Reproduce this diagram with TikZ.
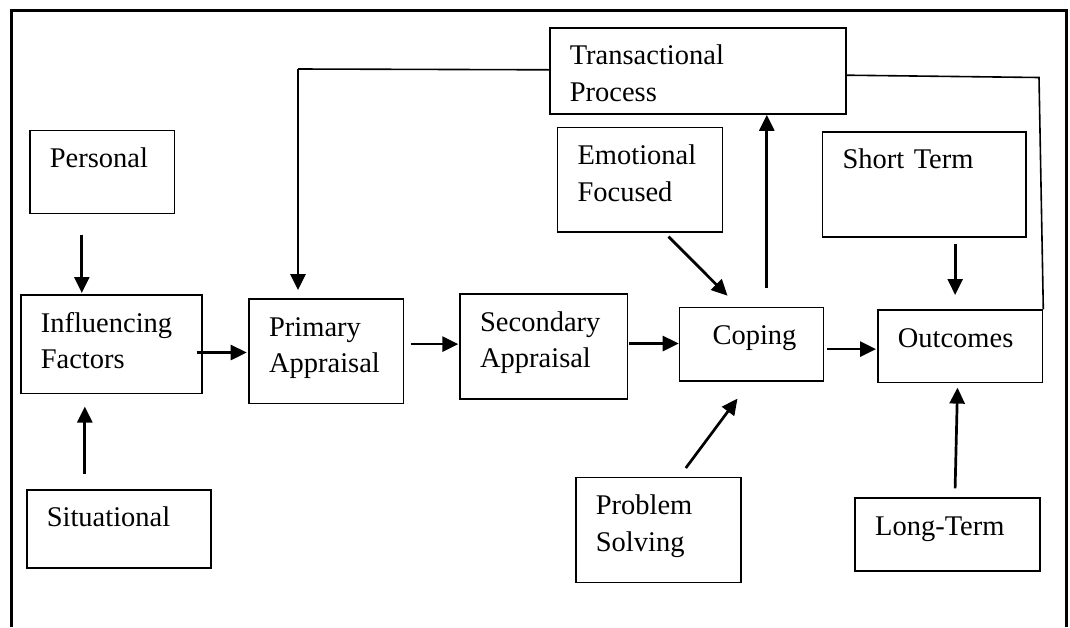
\documentclass[tikz,border=0pt]{standalone}
\usepackage{fontspec}
\setmainfont{Liberation Serif}
\usetikzlibrary{arrows.meta}

\begin{document}
\begin{tikzpicture}[x=1pt,y=-1pt,
  box/.style={draw,line width=1.6pt,anchor=north west,inner xsep=20pt,inner ysep=0pt,
    text height=37pt,align=left,font=\fontsize{28.5}{36.7}\selectfont},
  arr/.style={line width=2.7pt,-{Triangle[length=16pt,width=15pt]}},
  link/.style={line width=1.6pt}]
  \useasboundingbox (0,0) rectangle (1070,627);
  % outer frame, open at the bottom:
  \draw[line width=3pt] (11.5,627) -- (11.5,10.3) -- (1066,10.3) -- (1066,627);
  % influencing factors and their sources:
  \node[box,text width=104.5pt,text depth=46pt] (personal) at (29,129.5) {Personal};
  \node[box,text width=141pt,text depth=61.4pt] (influence) at (20,294.3) {Influencing\\Factors};
  \node[box,text width=144pt,text depth=41pt] (situational) at (26,489) {Situational};
  % appraisal chain:
  \node[box,text width=114.4pt,text depth=67.4pt] (primary) at (248.3,298.3) {Primary\\Appraisal};
  \node[box,text width=127.4pt,text depth=67.7pt] (secondary) at (459.3,293.3) {Secondary\\Appraisal};
  \node[box,text width=256pt,text depth=49.3pt] (transact) at (549,27) {Transactional\\Process};
  % coping and its two forms:
  \node[box,text width=125pt,text depth=67.3pt] (emotional) at (556.7,126.7) {Emotional\\Focused};
  \node[box,text width=104pt,text depth=36.3pt] (coping) at (678.7,306.7) {\hspace*{13pt}Coping};
  \node[box,text width=125pt,text depth=68pt] (problem) at (575,476.7) {Problem\\Solving};
  % outcomes, short and long term:
  \node[box,text width=163.3pt,text depth=68pt] (shortterm) at (821.7,131) {Short Term};
  \node[box,text width=124.7pt,text depth=35.4pt] (outcomes) at (877,309.3) {Outcomes};
  \node[box,text width=144.7pt,text depth=35.7pt] (longterm) at (854.3,497.3) {Long-Term};
  % arrows into influencing factors:
  \draw[arr,shorten <=20.5pt,shorten >=1.3pt] ([xshift=-20.25pt]personal.south) -- ([xshift=-20.25pt]personal.south |- influence.north);
  \draw[arr,shorten <=15pt,shorten >=12.3pt] ([xshift=-34pt]situational.north) -- ([xshift=-34pt]situational.north |- influence.south);
  % main chain:
  \draw[arr,shorten <=-6pt,shorten >=1.6pt] ([yshift=-8.2pt]influence.east) -- ([yshift=-8.2pt]influence.east -| primary.west);
  \draw[arr,shorten <=6.6pt,shorten >=1pt] ([yshift=7.2pt]primary.east) -- ([yshift=7.2pt]primary.east -| secondary.west);
  \draw[arr,shorten <=1pt] ([yshift=2.95pt]secondary.east) -- ([yshift=2.95pt]secondary.east -| coping.west);
  \draw[arr,shorten <=2.3pt,shorten >=1pt] ([yshift=-4.95pt]coping.east) -- ([yshift=-4.95pt]coping.east -| outcomes.west);
  % forms of coping:
  \draw[arr] ([xshift=28.5pt,yshift=-4pt]emotional.south) -- ([xshift=-24pt,yshift=11pt]coping.north);
  \draw[arr] ([xshift=27.5pt,yshift=8.7pt]problem.north) -- ([xshift=-14pt,yshift=-17pt]coping.south);
  % coping feeds the transactional process:
  \draw[arr,shorten <=18.7pt] ([xshift=15.3pt]coping.north) -- ([xshift=15.3pt]coping.north |- transact.south);
  % short and long term outcomes:
  \draw[arr,shorten <=6.7pt,shorten >=14.3pt] ([xshift=31pt]shortterm.south) -- ([xshift=31pt]shortterm.south |- outcomes.north);
  \draw[arr] ([xshift=7.65pt,yshift=9pt]longterm.north) -- ([xshift=-2.65pt,yshift=-4.3pt]outcomes.south);
  % feedback loop through the transactional process:
  \coordinate (fbk) at (298,69);
  \coordinate (fbkr) at (1039,77.5);
  \draw[link] ([yshift=1.15pt]transact.west) -- (fbk);
  \draw[arr,shorten >=8.3pt] (fbk) -- (fbk |- primary.north);
  \draw[link] ([yshift=-4.25pt]transact.east) -- (fbkr) -- (outcomes.north east);
\end{tikzpicture}
\end{document}
